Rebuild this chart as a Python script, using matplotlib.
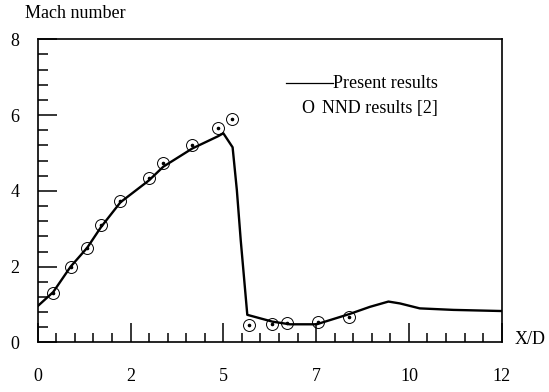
import numpy as np
import matplotlib.pyplot as plt
from matplotlib.ticker import FixedLocator, MultipleLocator

plt.rcParams["font.family"] = ["Liberation Serif", "DejaVu Serif"]
plt.rcParams["font.size"] = 13

# present results (solid line)
lineX = [0, 0.40, 0.85, 1.28, 1.64, 2.14, 2.88, 3.25, 4.00, 4.66, 4.80, 5.04,
         5.15, 5.25, 5.42, 6.07, 6.52, 7.21, 8.06, 8.59, 9.07, 9.37, 9.88,
         10.75, 12.0]
lineM = [0.96, 1.33, 2.00, 2.50, 3.05, 3.70, 4.28, 4.64, 5.12, 5.44, 5.52, 5.15,
         4.02, 2.70, 0.73, 0.55, 0.48, 0.48, 0.75, 0.94, 1.08, 1.03, 0.90,
         0.86, 0.83]

# NND results [2] (circles)
nndX = [0.40, 0.85, 1.28, 1.64, 2.14, 2.88, 3.25, 4.00, 4.66, 5.03,
        5.47, 6.07, 6.45, 7.24, 8.06]
nndM = [1.31, 2.00, 2.50, 3.09, 3.73, 4.35, 4.74, 5.21, 5.67, 5.90,
        0.46, 0.48, 0.51, 0.55, 0.68]

# x ticks are at 2.4 spacing, labelled as in the original
xTicks = [0, 2.4, 4.8, 7.2, 9.6, 12]
xTickLabels = ["0", "2", "5", "7", "10", "12"]
yTicks = [0, 2, 4, 6, 8]

fig = plt.figure(figsize=(5.49, 3.92), dpi=100)
ax = fig.add_axes([0.0687, 0.1263, 0.8452, 0.7735])

ax.plot(lineX, lineM, color="black", linewidth=1.7)
ax.plot(nndX, nndM, linestyle="none", marker="o", markersize=8.6,
        markerfacecolor="none", markeredgecolor="black", markeredgewidth=0.7)
ax.plot(nndX, nndM, linestyle="none", marker="o", markersize=1.6,
        color="black")

ax.set_xlim(0, 12)
ax.set_ylim(0, 8)

ax.xaxis.set_major_locator(FixedLocator(xTicks))
ax.set_xticklabels(xTickLabels)
ax.xaxis.set_minor_locator(MultipleLocator(0.48))
ax.yaxis.set_major_locator(FixedLocator(yTicks))
ax.yaxis.set_minor_locator(MultipleLocator(0.4))

ax.tick_params(which="both", direction="in", width=1.1, colors="black")
ax.tick_params(axis="x", which="major", length=13.7, pad=18.5)
ax.tick_params(axis="x", which="minor", length=6.8)
ax.tick_params(axis="y", which="major", length=14, pad=13)
ax.tick_params(axis="y", which="minor", length=7)

for s in ax.spines.values():
    s.set_linewidth(1.2)

# legend drawn by hand
ax.plot([0.535, 0.636], [0.855, 0.855], transform=ax.transAxes,
        color="black", linewidth=0.9)
ax.text(0.636, 0.855, "Present results", transform=ax.transAxes,
        ha="left", va="center")
ax.text(0.5815, 0.772, "O", transform=ax.transAxes,
        ha="center", va="center")
ax.text(0.6127, 0.772, "NND results [2]", transform=ax.transAxes,
        ha="left", va="center")

fig.text(0.0455, 0.966, "Mach number", ha="left", va="center")
fig.text(0.938, 0.1327, "X/D", ha="left", va="center")

fig.savefig("out.png", dpi=100)
